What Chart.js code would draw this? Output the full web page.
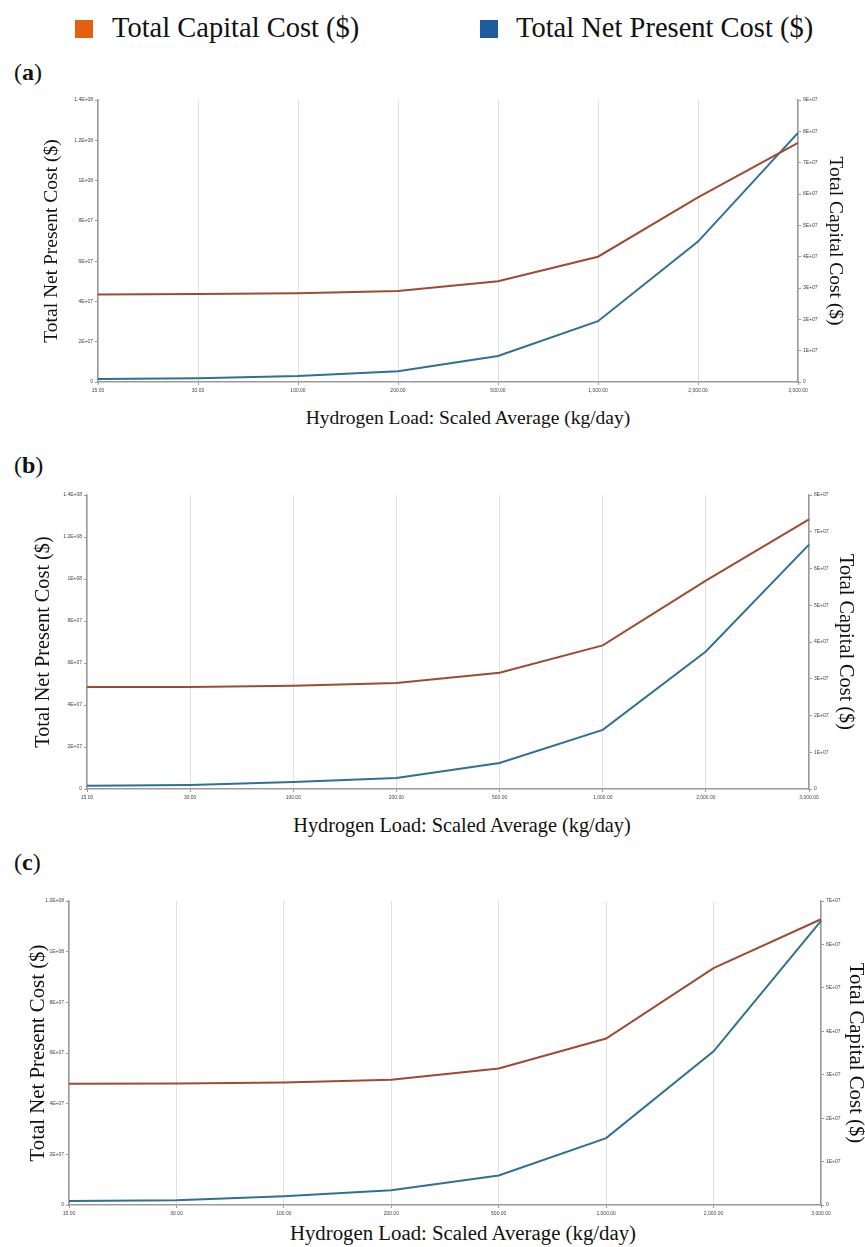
<!DOCTYPE html>
<html>
<head>
<meta charset="utf-8">
<script src="https://cdn.jsdelivr.net/npm/chart.js@4/dist/chart.umd.min.js"></script>
<style>
  html, body { margin: 0; padding: 0; background: #fff; }
  body { width: 865px; height: 1247px; position: relative; overflow: hidden; font-family: "Liberation Serif", "Times New Roman", serif; color: #111; }
  .sq { position: absolute; width: 18px; height: 18px; }
  .lg { position: absolute; font-size: 28.5px; line-height: 32px; white-space: nowrap; }
  .pl { position: absolute; left: 14px; font-size: 24px; line-height: 28px; }
  .xt { position: absolute; width: 600px; text-align: center; line-height: 24px; white-space: nowrap; }
  canvas { position: absolute; left: 0; }
</style>
</head>
<body>
<div class="sq" style="left:75px;top:20px;background:#e2600f;"></div>
<div class="lg" style="left:112px;top:12px;">Total Capital Cost ($)</div>
<div class="sq" style="left:480px;top:20px;background:#1f5c9e;"></div>
<div class="lg" style="left:516px;top:12px;">Total Net Present Cost ($)</div>

<div class="pl" style="top:58px;">(<b>a</b>)</div>
<div class="pl" style="top:451px;">(<b>b</b>)</div>
<div class="pl" style="top:848px;">(<b>c</b>)</div>

<canvas id="ca"></canvas>
<canvas id="cb"></canvas>
<canvas id="cc"></canvas>

<div class="xt" style="left:168px;top:406px;font-size:19.5px;">Hydrogen Load: Scaled Average (kg/day)</div>
<div class="xt" style="left:162px;top:813px;font-size:20.3px;">Hydrogen Load: Scaled Average (kg/day)</div>
<div class="xt" style="left:163px;top:1221px;font-size:20.8px;">Hydrogen Load: Scaled Average (kg/day)</div>

<script>
// ---- data ----
const categories = ["15.00", "30.00", "100.00", "200.00", "500.00", "1,000.00", "2,000.00", "3,000.00"];

const npcA = [4.35e7, 4.37e7, 4.40e7, 4.52e7, 5.00e7, 6.22e7, 9.16e7, 1.187e8];
const capA = [0.96e6, 1.18e6, 1.9e6, 3.4e6, 8.3e6, 1.94e7, 4.48e7, 7.95e7];

const npcB = [4.86e7, 4.86e7, 4.92e7, 5.05e7, 5.54e7, 6.84e7, 9.92e7, 1.284e8];
const capB = [0.9e6, 1.1e6, 1.9e6, 3.0e6, 7.1e6, 1.61e7, 3.74e7, 6.65e7];

const npcC = [4.79e7, 4.80e7, 4.84e7, 4.94e7, 5.39e7, 6.57e7, 9.35e7, 1.128e8];
const capC = [0.9e6, 1.1e6, 2.0e6, 3.4e6, 6.8e6, 1.54e7, 3.54e7, 6.54e7];

const leftTicksAB = ["0", "2E+07", "4E+07", "6E+07", "8E+07", "1E+08", "1.2E+08", "1.4E+08"];
const leftTicksC = ["0", "2E+07", "4E+07", "6E+07", "8E+07", "1E+08", "1.2E+08"];
const rightTicksA = ["0", "1E+07", "2E+07", "3E+07", "4E+07", "5E+07", "6E+07", "7E+07", "8E+07", "9E+07"];
const rightTicksB = ["0", "1E+07", "2E+07", "3E+07", "4E+07", "5E+07", "6E+07", "7E+07", "8E+07"];
const rightTicksC = ["0", "1E+07", "2E+07", "3E+07", "4E+07", "5E+07", "6E+07", "7E+07"];

const leftTitle = "Total Net Present Cost ($)";
const rightTitle = "Total Capital Cost ($)";
const npcLabel = "Total Net Present Cost ($)";
const capLabel = "Total Capital Cost ($)";

// ---- styling ----
const W = 865;
const brown = "#9d4b33";
const blue = "#2f7193";
const axisGray = "#9a9a9a";
const gridGray = "#e3e3e3";
const tickFont = { family: "Liberation Sans, Arial, sans-serif", size: 5 };

function makePanel(id, g, npc, cap, leftLabels, leftStep, rightLabels, rightStep) {
  const cv = document.getElementById(id);
  const H = g.bottom - g.top;
  cv.width = W; cv.height = H;
  cv.style.top = g.top + "px";
  cv.style.width = W + "px"; cv.style.height = H + "px";
  const ts = g.titleSize;
  const lh = ts * 1.2;

  new Chart(cv, {
    type: "line",
    data: {
      labels: categories,
      datasets: [
        { label: npcLabel, data: npc, yAxisID: "y", borderColor: brown, backgroundColor: brown,
          borderWidth: 2, pointRadius: 0, tension: 0, fill: false },
        { label: capLabel, data: cap, yAxisID: "y1", borderColor: blue, backgroundColor: blue,
          borderWidth: 2, pointRadius: 0, tension: 0, fill: false }
      ]
    },
    options: {
      responsive: false,
      animation: false,
      devicePixelRatio: 1,
      layout: { padding: { top: g.plotTop - g.top, left: 0, right: 0, bottom: 0 } },
      plugins: { legend: { display: false }, tooltip: { enabled: false }, title: { display: false } },
      scales: {
        x: {
          type: "category",
          offset: false,
          grid: { color: gridGray, lineWidth: 1, drawTicks: true, tickLength: 3, tickColor: axisGray },
          border: { color: axisGray, width: 1.5 },
          ticks: { font: tickFont, color: "#444", autoSkip: false, maxRotation: 0, minRotation: 0, padding: 3 },
          afterFit: s => { s.height = g.bottom - g.plotBottom; }
        },
        y: {
          type: "linear", position: "left",
          min: 0, max: leftStep * (leftLabels.length - 1),
          grid: { drawOnChartArea: false, drawTicks: true, tickLength: 3, color: axisGray },
          border: { color: axisGray, width: 1.5 },
          ticks: { stepSize: leftStep, autoSkip: false, font: tickFont, color: "#444", padding: 2,
                   callback: (v, i) => leftLabels[i] },
          title: { display: true, text: leftTitle, color: "#111",
                   font: { family: "Liberation Serif, Times New Roman, serif", size: ts },
                   padding: { top: g.leftTitleX - lh / 2, bottom: 0 } },
          afterFit: s => { s.width = g.plotLeft; }
        },
        y1: {
          type: "linear", position: "right",
          min: 0, max: rightStep * (rightLabels.length - 1),
          grid: { drawOnChartArea: false, drawTicks: true, tickLength: 3, color: axisGray },
          border: { color: axisGray, width: 1.5 },
          ticks: { stepSize: rightStep, autoSkip: false, font: tickFont, color: "#444", padding: 2,
                   callback: (v, i) => rightLabels[i] },
          title: { display: true, text: rightTitle, color: "#111",
                   font: { family: "Liberation Serif, Times New Roman, serif", size: ts },
                   padding: { top: W - g.rightTitleX - lh / 2, bottom: 0 } },
          afterFit: s => { s.width = W - g.plotRight; }
        }
      }
    }
  });
}

makePanel("ca", { top: 88, plotTop: 100, plotBottom: 382, plotLeft: 98, plotRight: 798, bottom: 400, leftTitleX: 52, rightTitleX: 835, titleSize: 19.5 },
  npcA, capA, leftTicksAB, 2e7, rightTicksA, 1e7);
makePanel("cb", { top: 483, plotTop: 495, plotBottom: 789, plotLeft: 87, plotRight: 809, bottom: 807, leftTitleX: 44, rightTitleX: 845, titleSize: 20.3 },
  npcB, capB, leftTicksAB, 2e7, rightTicksB, 1e7);
makePanel("cc", { top: 889, plotTop: 901, plotBottom: 1205, plotLeft: 69, plotRight: 821, bottom: 1220, leftTitleX: 39, rightTitleX: 855, titleSize: 20.8 },
  npcC, capC, leftTicksC, 2e7, rightTicksC, 1e7);
</script>
</body>
</html>
